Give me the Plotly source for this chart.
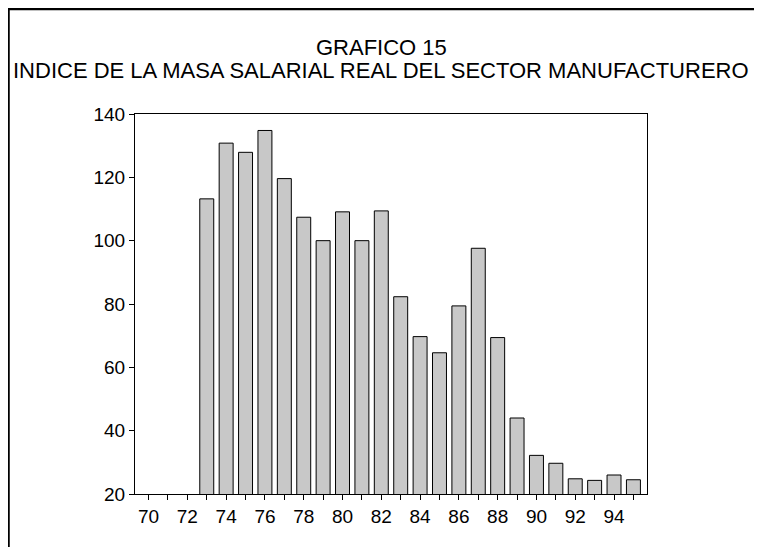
import plotly.graph_objects as go

years = list(range(70, 96))
index_values = [None, None, None,
                113.2, 130.8, 127.9, 134.8, 119.6, 107.4, 100.0, 109.1, 100.0,
                109.4, 82.3, 69.7, 64.6, 79.4, 97.6, 69.4, 44.0, 32.2, 29.7,
                24.8, 24.3, 26.0, 24.5]
y_ticks = [20, 40, 60, 80, 100, 120, 140]
x_ticks = list(range(70, 96, 2))

OFF = 8  # browser body margin
W, H = 762 - OFF, 547 - OFF
L, R, T, B = 135 - OFF, 647 - OFF, 114 - OFF, 494 - OFF

fig = go.Figure()
fig.add_trace(go.Bar(
    x=years, y=index_values, width=0.72,
    marker=dict(color="#c8c8c8", line=dict(color="black", width=1)),
))

def px_x(p):
    return (p - OFF - L) / (R - L)

def px_y(p):
    return (B - (p - OFF)) / (B - T)

fig.add_shape(type="path", xref="paper", yref="paper",
              path=f"M {px_x(8.5)} {px_y(560)} L {px_x(8.5)} {px_y(9)} L {px_x(775)} {px_y(9)}",
              line=dict(color="black", width=2.5))

fig.update_layout(
    width=W, height=H,
    margin=dict(l=L, r=W - R, t=T, b=H - B, pad=0),
    paper_bgcolor="white", plot_bgcolor="white",
    font=dict(family="Liberation Sans, Arial, sans-serif", size=19, color="black"),
    showlegend=False,
    annotations=[
        dict(text="GRAFICO 15", xref="paper", yref="paper",
             x=px_x(381), y=px_y(47), xanchor="center", yanchor="middle",
             showarrow=False, font=dict(size=22)),
        dict(text="INDICE DE LA MASA SALARIAL REAL DEL SECTOR MANUFACTURERO",
             xref="paper", yref="paper", x=px_x(381), y=px_y(71),
             xanchor="center", yanchor="middle",
             showarrow=False, font=dict(size=22)),
    ],
)
fig.update_xaxes(range=[69.3, 95.7], tickvals=x_ticks, ticktext=[str(v) for v in x_ticks],
                 ticks="outside", ticklen=5, tickcolor="black",
                 minor=dict(ticks="outside", dtick=1, tick0=70, ticklen=5, tickcolor="black"),
                 showline=True, linecolor="black", linewidth=1, mirror=True,
                 showgrid=False, zeroline=False)
fig.update_yaxes(range=[20, 140], tickvals=y_ticks, ticks="outside", ticklen=5, tickcolor="black",
                 showline=True, linecolor="black", linewidth=1, mirror=True,
                 showgrid=False, zeroline=False)

fig.write_html("out.html")
